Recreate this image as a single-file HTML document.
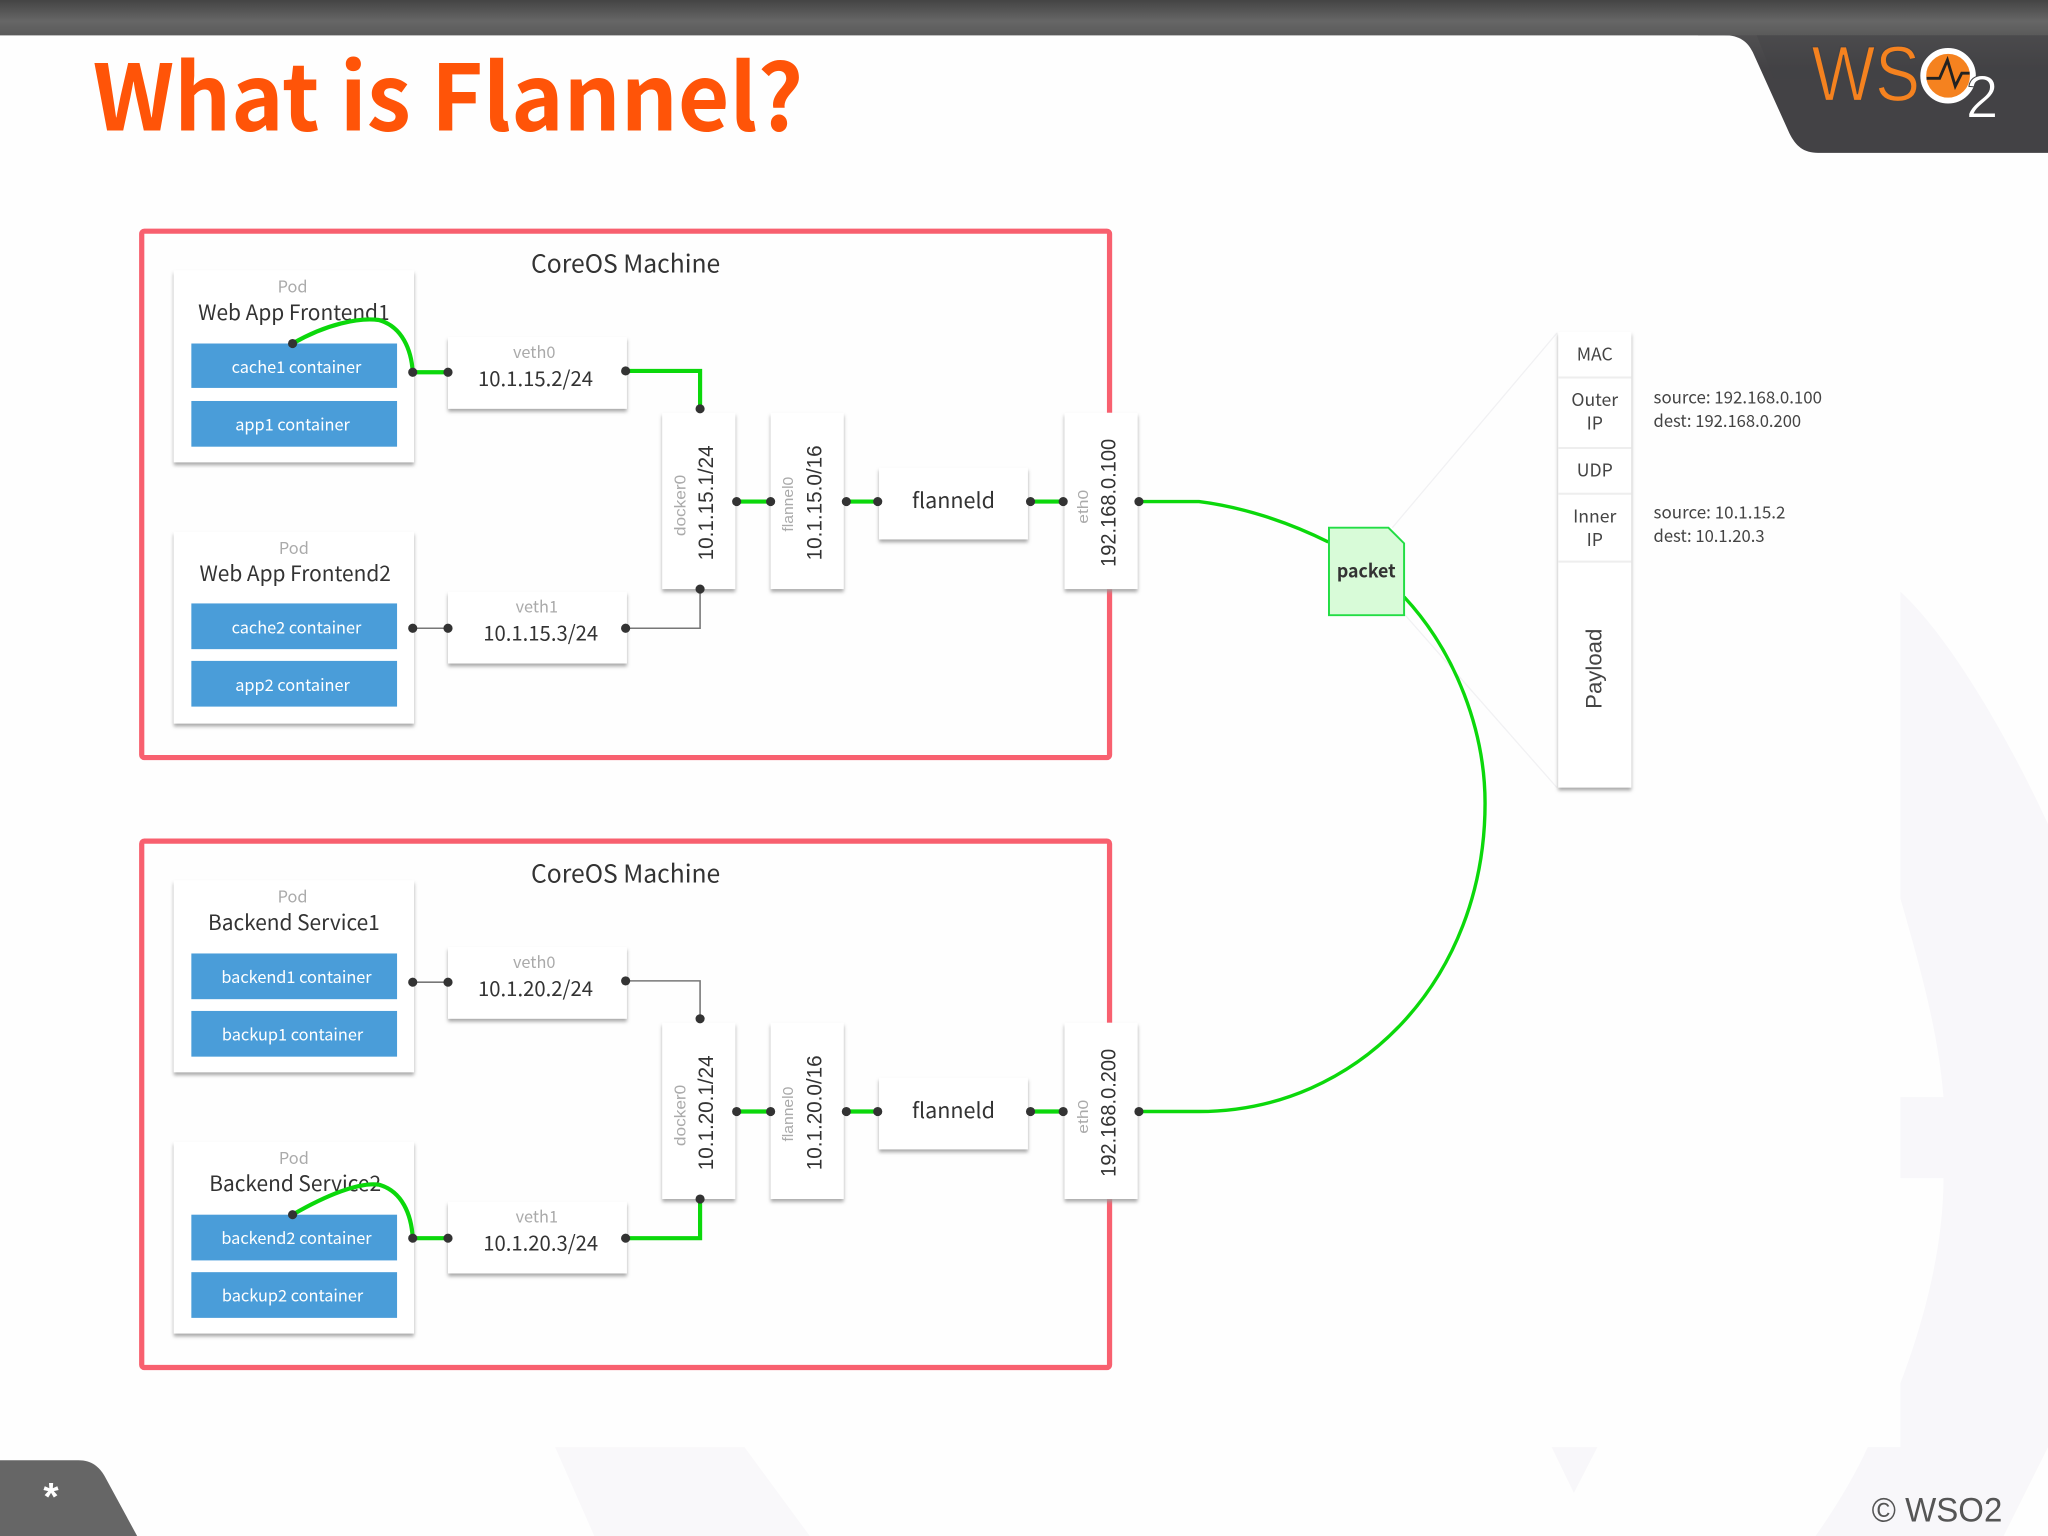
<!DOCTYPE html>
<html><head><meta charset="utf-8"><style>
html,body{margin:0;padding:0;background:#fefefe}
svg{display:block}
.n{font-family:"Noto Sans CJK SC","Liberation Sans",sans-serif;fill:#333;text-anchor:middle}
.g{font-size:12.5px;fill:#aaa}
.t{font-size:16px}
.ip{font-size:15.800px}
.c{font-size:12.500px;fill:#fff}
.l{font-family:"Liberation Sans",sans-serif;fill:#333;text-anchor:middle}
.h{font-size:13.500px;fill:#444}
.s{font-size:13px;fill:#444;text-anchor:start}
.b{fill:#fff;filter:url(#sh)}
.d{fill:#333}
.gl{fill:none;stroke:#0bd80b;stroke-width:3.2}
.gr{fill:none;stroke:#777;stroke-width:1.2}
.bl{fill:#4a9dd9}
.r{fill:none;stroke:#f8606f;stroke-width:4}
</style></head><body>
<svg xmlns="http://www.w3.org/2000/svg" width="2048" height="1536" viewBox="0 0 1568 1176">
<defs>
<linearGradient id="top" x1="0" y1="0" x2="0" y2="1"><stop offset="0" stop-color="#444"/><stop offset=".6" stop-color="#666"/><stop offset="1" stop-color="#5a5a5a"/></linearGradient>
<linearGradient id="cor" x1="0" y1="0" x2="0" y2="1"><stop offset="0" stop-color="#5e5e5e"/><stop offset=".45" stop-color="#434245"/><stop offset="1" stop-color="#434245"/></linearGradient>
<filter id="sh" x="-10%" y="-10%" width="120%" height="125%"><feDropShadow dx="0" dy="2.200" stdDeviation="1.500" flood-color="#999" flood-opacity=".85"/></filter>
</defs>
<rect width="1568" height="1176" fill="#fefefe"/>
<!-- watermark -->
<path fill="#f8f7fa" d="M1455 453C1495 490 1540 570 1568 631V1108L1534 1176H1390C1405 1155 1420 1130 1430 1108H1455V1059C1470 1020 1488 960 1488 902H1455V840H1488C1484 790 1470 740 1455 688Z"/>
<path fill="#f9f8fa" d="M425 1108H570L620 1176H455Z"/>
<path fill="#f8f7fa" d="M1188 1108H1223L1205 1143Z"/>
<!-- chrome -->
<rect width="1568" height="27" fill="url(#top)"/>
<path fill="url(#cor)" d="M1320 27C1332 27 1338 32 1342 40L1370 102C1375 112 1381 117 1392 117H1568V0H1300V27Z"/>
<rect x="0" y="0" width="1568" height="27" fill="url(#top)"/>
<path fill="#434245" d="M1345 27H1568V60H1358Z" opacity=".35"/>
<path fill="#666" d="M0 1118H60C70 1118 76 1123 80 1130L105 1176H0Z"/>
<text x="39" y="1156" font-family="Liberation Sans,sans-serif" font-weight="700" font-size="30" fill="#fff" text-anchor="middle">*</text>
<text x="71" y="100" font-family="Noto Sans CJK SC,Liberation Sans,sans-serif" font-weight="700" font-size="70" fill="#ff5408" textLength="544" lengthAdjust="spacingAndGlyphs">What is Flannel?</text>
<text x="1433" y="1165" font-family="Liberation Sans,sans-serif" font-size="26" fill="#555" textLength="100" lengthAdjust="spacingAndGlyphs">© WSO2</text>
<!-- logo -->
<text x="1387" y="77" font-family="Liberation Sans,sans-serif" font-size="60" fill="#f5821f" stroke="#434245" stroke-width="1" paint-order="normal" textLength="83" lengthAdjust="spacingAndGlyphs">WS</text>
<circle cx="1491.500" cy="58" r="19" fill="#f5821f" stroke="#fff" stroke-width="4.500"/>
<path d="M1475 60H1485L1491 46L1497 66L1502 56H1508" fill="none" stroke="#222" stroke-width="2.200"/>
<text x="1505" y="90" font-family="Liberation Sans,sans-serif" font-size="46" fill="#fff" stroke="#434245" stroke-width=".8" textLength="25" lengthAdjust="spacingAndGlyphs">2</text>

<!-- red frames -->
<rect class="r" x="108.500" y="177" width="741" height="403" rx="2"/>
<rect class="r" x="108.500" y="644" width="741" height="403" rx="2"/>
<text class="n" x="479" y="208.500" font-size="18.900">CoreOS Machine</text>
<text class="n" x="479" y="675.500" font-size="18.900">CoreOS Machine</text>

<!-- faint packet lines -->
<path d="M1066 404L1192 255M1075 470L1192 603" stroke="#f1f1f3" stroke-width="1" fill="none"/>

<!-- machine 1 boxes -->
<rect class="b" x="133" y="207" width="184" height="147"/>
<rect class="b" x="133" y="407" width="184" height="147"/>
<rect class="b" x="343" y="258" width="137" height="55"/>
<rect class="b" x="343" y="453" width="137" height="55"/>
<rect class="b" x="507" y="316" width="56" height="135"/>
<rect class="b" x="590" y="316" width="56" height="135"/>
<rect class="b" x="673" y="358" width="114" height="55"/>
<rect class="b" x="815" y="316" width="56" height="135"/>
<rect class="bl" x="146.500" y="263" width="157.500" height="34"/>
<rect class="bl" x="146.500" y="307" width="157.500" height="35"/>
<rect class="bl" x="146.500" y="462" width="157.500" height="35"/>
<rect class="bl" x="146.500" y="506" width="157.500" height="35"/>
<!-- machine 2 boxes -->
<rect class="b" x="133" y="674" width="184" height="147"/>
<rect class="b" x="133" y="874" width="184" height="147"/>
<rect class="b" x="343" y="725" width="137" height="55"/>
<rect class="b" x="343" y="920" width="137" height="55"/>
<rect class="b" x="507" y="783" width="56" height="135"/>
<rect class="b" x="590" y="783" width="56" height="135"/>
<rect class="b" x="673" y="825" width="114" height="55"/>
<rect class="b" x="815" y="783" width="56" height="135"/>
<rect class="bl" x="146.500" y="730" width="157.500" height="35"/>
<rect class="bl" x="146.500" y="774" width="157.500" height="35"/>
<rect class="bl" x="146.500" y="930" width="157.500" height="35"/>
<rect class="bl" x="146.500" y="974" width="157.500" height="35"/>

<!-- text m1 -->
<text class="n g" x="224" y="224">Pod</text>
<text class="n t" x="225" y="245">Web App Frontend1</text>
<text class="n c" x="227" y="285.500">cache1 container</text>
<text class="n c" x="224" y="329.500">app1 container</text>
<text class="n g" x="225" y="424">Pod</text>
<text class="n t" x="226" y="445">Web App Frontend2</text>
<text class="n c" x="227" y="485">cache2 container</text>
<text class="n c" x="224" y="529">app2 container</text>
<text class="n g" x="409" y="274">veth0</text>
<text class="n ip" x="410" y="295.500" textLength="88" lengthAdjust="spacingAndGlyphs">10.1.15.2/24</text>
<text class="n g" x="411" y="469">veth1</text>
<text class="n ip" x="414" y="490.500" textLength="88" lengthAdjust="spacingAndGlyphs">10.1.15.3/24</text>
<text class="n t" x="730" y="389" style="font-size:16.500px">flanneld</text>
<!-- text m2 -->
<text class="n g" x="224" y="691">Pod</text>
<text class="n t" x="225" y="712">Backend Service1</text>
<text class="n c" x="227" y="752.500">backend1 container</text>
<text class="n c" x="224" y="796.500">backup1 container</text>
<text class="n g" x="225" y="891">Pod</text>
<text class="n t" x="226" y="912">Backend Service2</text>
<text class="n c" x="227" y="952.500">backend2 container</text>
<text class="n c" x="224" y="996.500">backup2 container</text>
<text class="n g" x="409" y="741">veth0</text>
<text class="n ip" x="410" y="762.500" textLength="88" lengthAdjust="spacingAndGlyphs">10.1.20.2/24</text>
<text class="n g" x="411" y="936">veth1</text>
<text class="n ip" x="414" y="957.500" textLength="88" lengthAdjust="spacingAndGlyphs">10.1.20.3/24</text>
<text class="n t" x="730" y="856" style="font-size:16.500px">flanneld</text>

<!-- rotated m1 -->
<text class="l" transform="translate(525 387) rotate(-90)" font-size="12" style="fill:#aaa" textLength="47" lengthAdjust="spacingAndGlyphs">docker0</text>
<text class="l" transform="translate(546 385) rotate(-90)" font-size="16" textLength="88" lengthAdjust="spacingAndGlyphs">10.1.15.1/24</text>
<text class="l" transform="translate(607 386) rotate(-90)" font-size="11" style="fill:#aaa" textLength="42" lengthAdjust="spacingAndGlyphs">flannel0</text>
<text class="l" transform="translate(629 385) rotate(-90)" font-size="16" textLength="88" lengthAdjust="spacingAndGlyphs">10.1.15.0/16</text>
<text class="l" transform="translate(833 388) rotate(-90)" font-size="11" style="fill:#aaa" textLength="26" lengthAdjust="spacingAndGlyphs">eth0</text>
<text class="l" transform="translate(854 385) rotate(-90)" font-size="16" textLength="98" lengthAdjust="spacingAndGlyphs">192.168.0.100</text>
<!-- rotated m2 -->
<text class="l" transform="translate(525 854) rotate(-90)" font-size="12" style="fill:#aaa" textLength="47" lengthAdjust="spacingAndGlyphs">docker0</text>
<text class="l" transform="translate(546 852) rotate(-90)" font-size="16" textLength="88" lengthAdjust="spacingAndGlyphs">10.1.20.1/24</text>
<text class="l" transform="translate(607 853) rotate(-90)" font-size="11" style="fill:#aaa" textLength="42" lengthAdjust="spacingAndGlyphs">flannel0</text>
<text class="l" transform="translate(629 852) rotate(-90)" font-size="16" textLength="88" lengthAdjust="spacingAndGlyphs">10.1.20.0/16</text>
<text class="l" transform="translate(833 855) rotate(-90)" font-size="11" style="fill:#aaa" textLength="26" lengthAdjust="spacingAndGlyphs">eth0</text>
<text class="l" transform="translate(854 852) rotate(-90)" font-size="16" textLength="98" lengthAdjust="spacingAndGlyphs">192.168.0.200</text>

<!-- connectors -->
<path class="gl" d="M224 263C250 248 275 243 290 245C308 250 315 268 316 285M316 285H343M479 284H536V313M563 384H590M647 384H672M788 384H814"/>
<path class="gl" d="M224 930C250 915 275 905 290 907C308 912 315 930 316 948M316 948H343M479 948H536V918M563 851H590M647 851H672M788 851H814"/>
<path class="gr" d="M316 481H343M479 481H536V451M316 752H343M479 751H536V780"/>
<path class="gl" style="stroke-width:2.600" d="M872 384H918C950 388 985 399 1017 415M1075 457C1115 500 1137 560 1137 615C1137 750 1040 851 918 851H872"/>
<g class="d">
<circle cx="224" cy="263" r="3.500"/><circle cx="316" cy="285" r="3.500"/><circle cx="343" cy="285" r="3.500"/><circle cx="479" cy="284" r="3.500"/><circle cx="536" cy="313" r="3.500"/>
<circle cx="316" cy="481" r="3.500"/><circle cx="343" cy="481" r="3.500"/><circle cx="479" cy="481" r="3.500"/><circle cx="536" cy="451" r="3.500"/>
<circle cx="564" cy="384" r="3.500"/><circle cx="590" cy="384" r="3.500"/><circle cx="648" cy="384" r="3.500"/><circle cx="672" cy="384" r="3.500"/><circle cx="789" cy="384" r="3.500"/><circle cx="814" cy="384" r="3.500"/><circle cx="872" cy="384" r="3.500"/>
<circle cx="316" cy="752" r="3.500"/><circle cx="343" cy="752" r="3.500"/><circle cx="479" cy="751" r="3.500"/><circle cx="536" cy="780" r="3.500"/>
<circle cx="224" cy="930" r="3.500"/><circle cx="316" cy="948" r="3.500"/><circle cx="343" cy="948" r="3.500"/><circle cx="479" cy="948" r="3.500"/><circle cx="536" cy="918" r="3.500"/>
<circle cx="564" cy="851" r="3.500"/><circle cx="590" cy="851" r="3.500"/><circle cx="648" cy="851" r="3.500"/><circle cx="672" cy="851" r="3.500"/><circle cx="789" cy="851" r="3.500"/><circle cx="814" cy="851" r="3.500"/><circle cx="872" cy="851" r="3.500"/>
</g>

<!-- packet -->
<path d="M1017.500 404H1063L1075 416V471H1017.500Z" fill="#d8fbd8" stroke="#22dd44" stroke-width="1.500"/>
<text class="n" x="1046" y="442" font-size="14" font-weight="700" textLength="45" lengthAdjust="spacingAndGlyphs">packet</text>

<!-- stack -->
<rect class="b" x="1193" y="254" width="56" height="349"/>
<path d="M1193 289H1249M1193 343H1249M1193 378H1249M1193 430H1249" stroke="#eee" stroke-width="1.500"/>
<text class="n h" x="1221" y="276">MAC</text>
<text class="n h" x="1221" y="311">Outer</text>
<text class="n h" x="1221" y="329">IP</text>
<text class="n h" x="1221" y="365">UDP</text>
<text class="n h" x="1221" y="400">Inner</text>
<text class="n h" x="1221" y="418">IP</text>
<text class="l" transform="translate(1226 512) rotate(-90)" font-size="17" style="fill:#444">Payload</text>
<text class="n s" x="1266" y="309" textLength="129" lengthAdjust="spacingAndGlyphs">source: 192.168.0.100</text>
<text class="n s" x="1266" y="327" textLength="113" lengthAdjust="spacingAndGlyphs">dest: 192.168.0.200</text>
<text class="n s" x="1266" y="397" textLength="101" lengthAdjust="spacingAndGlyphs">source: 10.1.15.2</text>
<text class="n s" x="1266" y="415" textLength="85" lengthAdjust="spacingAndGlyphs">dest: 10.1.20.3</text>
</svg>
</body></html>
